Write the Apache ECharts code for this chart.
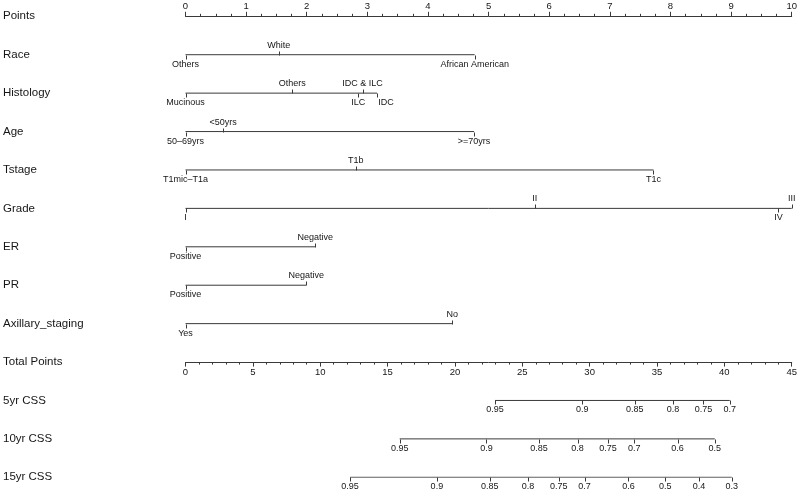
<!DOCTYPE html>
<html>
<head>
<meta charset="utf-8">
<style>html,body{margin:0;padding:0;background:#fff}#c{width:800px;height:494px}</style>
<script src="https://cdn.jsdelivr.net/npm/echarts@6/dist/echarts.min.js"></script>
</head>
<body>
<div id="c"></div>
<script>
// ---- data ----
const rowNames = ['Points','Race','Histology','Age','Tstage','Grade','ER','PR','Axillary_staging','Total Points','5yr CSS','10yr CSS','15yr CSS'];

const raceLevels = ['Others','White','African American'];
const racePoints = [0, 1.54, 4.77];

const histLevels = ['Mucinous','Others','ILC','IDC & ILC','IDC'];
const histPoints = [0, 1.76, 2.85, 2.92, 3.16];

const ageLevels = ['50–69yrs','<50yrs','>=70yrs'];
const agePoints = [0, 0.62, 4.76];

const tLevels = ['T1mic–T1a','T1b','T1c'];
const tPoints = [0, 2.81, 7.72];

const gradeLevels = ['I','II','IV','III'];
const gradePoints = [0, 5.76, 9.78, 10];

const erLevels = ['Positive','Negative'];
const erPoints = [0, 2.14];

const prLevels = ['Positive','Negative'];
const prPoints = [0, 1.99];

const axLevels = ['Yes','No'];
const axPoints = [0, 4.40];

const css5Labels = ['0.95','0.9','0.85','0.8','0.75','0.7'];
const css5Total = [22.98, 29.45, 33.35, 36.18, 38.45, 40.40];

const css10Labels = ['0.95','0.9','0.85','0.8','0.75','0.7','0.6','0.5'];
const css10Total = [15.90, 22.34, 26.24, 29.10, 31.37, 33.32, 36.53, 39.29];

const css15Labels = ['0.95','0.9','0.85','0.8','0.75','0.7','0.6','0.5','0.4','0.3'];
const css15Total = [12.22, 18.66, 22.58, 25.43, 27.70, 29.62, 32.88, 35.62, 38.11, 40.55];

// ---- layout (label placement: true = above line) ----
const layout = {
  race:  {above:[false,true,false]},
  hist:  {above:[false,true,false,true,false], dx:[0,0,0,0,9]},
  age:   {above:[false,true,false]},
  t:     {above:[false,true,false]},
  grade: {above:[false,true,false,true]},
  er:    {above:[false,true]},
  pr:    {above:[false,true]},
  ax:    {above:[false,true]},
  css:   {above:null}
};

const FONT = '"Liberation Sans", Arial, Helvetica, sans-serif';
const LINE = '#3a3a3a';
const TXT = '#161616';

function makeRow(rowIdx, names, values, lay, xAxisIndex) {
  const above = lay.above;
  const dx = lay.dx;
  return [{
    type: 'line', xAxisIndex: xAxisIndex, yAxisIndex: 0,
    data: [[Math.min.apply(null, values), rowIdx], [Math.max.apply(null, values), rowIdx]],
    symbol: 'none', silent: true,
    lineStyle: {color: LINE, width: 1}
  }, {
    type: 'custom', xAxisIndex: xAxisIndex, yAxisIndex: 0, clip: false, silent: true,
    data: values.map((v, i) => [v, rowIdx, i]),
    renderItem: function (params, api) {
      const p = api.coord([api.value(0), api.value(1)]);
      const i = api.value(2);
      const up = above ? above[i] : false;
      const off = dx ? dx[i] : 0;
      const x = Math.round(p[0]) + 0.5;
      const y = Math.round(p[1]) + 0.5;
      return {
        type: 'group',
        children: [{
          type: 'line',
          shape: {x1: x, y1: y, x2: x, y2: y + (up ? -4 : 4)},
          style: {stroke: LINE, lineWidth: 1}
        }, {
          type: 'text',
          style: {
            text: names[i], x: p[0] + off, y: p[1] + (up ? -5 : 5),
            align: 'center', verticalAlign: up ? 'bottom' : 'top',
            fontSize: 9, fontFamily: FONT, fill: TXT
          }
        }]
      };
    }
  }];
}

const series = [].concat(
  makeRow(1, raceLevels, racePoints, layout.race, 0),
  makeRow(2, histLevels, histPoints, layout.hist, 0),
  makeRow(3, ageLevels, agePoints, layout.age, 0),
  makeRow(4, tLevels, tPoints, layout.t, 0),
  makeRow(5, gradeLevels, gradePoints, layout.grade, 0),
  makeRow(6, erLevels, erPoints, layout.er, 0),
  makeRow(7, prLevels, prPoints, layout.pr, 0),
  makeRow(8, axLevels, axPoints, layout.ax, 0),
  makeRow(10, css5Labels, css5Total, layout.css, 1),
  makeRow(11, css10Labels, css10Total, layout.css, 1),
  makeRow(12, css15Labels, css15Total, layout.css, 1)
);

const chart = echarts.init(document.getElementById('c'), null, {renderer: 'canvas'});
chart.setOption({
  animation: false,
  backgroundColor: '#ffffff',
  grid: {left: 185.5, right: 5.7, top: 16.3, bottom: 16.7, containLabel: false},
  xAxis: [{
    type: 'value', position: 'top', min: 0, max: 10, interval: 1,
    axisLine: {show: true, lineStyle: {color: LINE, width: 1}},
    axisTick: {show: true, length: 4.5, lineStyle: {color: LINE}},
    minorTick: {show: true, splitNumber: 4, length: 2.5, lineStyle: {color: LINE}},
    axisLabel: {margin: 5, fontSize: 9.5, color: TXT, fontFamily: FONT},
    splitLine: {show: false}, minorSplitLine: {show: false}
  }, {
    type: 'value', position: 'bottom', offset: -115.2, min: 0, max: 45, interval: 5,
    axisLine: {show: true, lineStyle: {color: LINE, width: 1}},
    axisTick: {show: true, length: 4.5, lineStyle: {color: LINE}},
    minorTick: {show: true, splitNumber: 5, length: 2.5, lineStyle: {color: LINE}},
    axisLabel: {margin: 5, fontSize: 9.5, color: TXT, fontFamily: FONT},
    splitLine: {show: false}, minorSplitLine: {show: false}
  }],
  yAxis: [{
    type: 'value', min: 0, max: 12, interval: 1, inverse: true,
    axisLine: {show: false}, axisTick: {show: false}, splitLine: {show: false},
    axisLabel: {
      align: 'left', margin: 182.5, fontSize: 11.5, color: TXT, fontFamily: FONT,
      formatter: function (v) { return rowNames[v] || ''; }
    }
  }],
  series: series
});
</script>
</body>
</html>
